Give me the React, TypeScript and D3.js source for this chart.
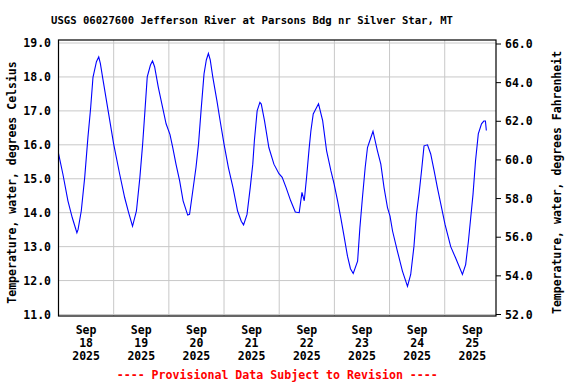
import React from "react";
import * as d3 from "d3";

// hours after Sep 18 2025 00:00 and water temperature (deg C)
const hours = [
  0, 1.9, 4.1, 6, 8, 8.5, 9.9, 11.4, 12.8, 14, 15, 16.5, 17.5, 18.2, 19.4, 21.6,
  24, 26.6, 28.8, 30.5, 32.2, 33.9, 35.4, 36.6, 37.6, 38.6, 40, 40.9, 41.8, 43.4, 45.6, 46.8,
  48.5, 49.7, 51.1, 52.7, 54.2, 56.2, 57, 58.4, 59.8, 60.9, 62, 63.3, 64.3, 65.2, 66, 67.1, 68.9, 70.3,
  72, 73.9, 75.9, 77.9, 79.5, 80.5, 82, 83.4, 84.5, 85.2, 86.4, 87.6, 88.2, 89.6, 91.5, 93.7,
  95.9, 97.3, 99, 101, 103, 104.7, 105.9, 106.9, 107.9, 109, 109.8, 110.8, 113.1, 114.9, 116.6, 118.5,
  119.9, 121.4, 122.8, 124.2, 125.7, 127, 128.2, 130.1, 131.1, 132.2, 133.4, 134.4, 135.4, 136.8, 138.7, 140.2, 141.6, 143.1,
  144.2, 145.3, 147.4, 149.6, 151.8, 153.2, 154.6, 155.7, 156.8, 157.9, 159, 160.5, 161.9, 163.4, 164.8, 166.3,
  168.1, 170.6, 172.7, 175.7, 177.1, 178.3, 179.3, 180.3, 181.4, 182.6, 184, 185, 185.7, 186.1,
];
const tempC = [
  15.75, 15.14, 14.35, 13.85, 13.41, 13.5, 14.05, 15.04, 16.22, 17.1, 17.99, 18.45, 18.59, 18.4, 17.9, 17.0,
  16.02, 15.14, 14.44, 14.0, 13.6, 14.05, 15.04, 16.02, 17.0, 18.0, 18.35, 18.47, 18.3, 17.7, 17.0, 16.62,
  16.3, 15.92, 15.43, 14.94, 14.35, 13.93, 13.95, 14.64, 15.33, 16.02, 17.0, 18.09, 18.5, 18.69, 18.5, 18.0, 17.3, 16.71,
  16.02, 15.33, 14.74, 14.05, 13.75, 13.64, 13.95, 14.74, 15.43, 16.12, 17.0, 17.25, 17.2, 16.71, 15.92, 15.43,
  15.15, 15.04, 14.74, 14.35, 14.02, 14.0, 14.6, 14.35, 15.04, 15.88, 16.42, 16.91, 17.21, 16.71, 15.83, 15.23,
  14.84, 14.35, 13.85, 13.31, 12.72, 12.35, 12.21, 12.57, 13.56, 14.44, 15.33, 15.92, 16.12, 16.4, 15.83, 15.43, 14.74, 14.15,
  13.9, 13.46, 12.87, 12.28, 11.83, 12.18, 13.0, 13.95, 14.54, 15.23, 15.97, 16.0, 15.73, 15.23, 14.74, 14.25,
  13.66, 13.0, 12.67, 12.18, 12.47, 13.16, 13.85, 14.54, 15.53, 16.32, 16.62, 16.7, 16.7, 16.42,
];
const celsiusTicks = [11, 12, 13, 14, 15, 16, 17, 18, 19];
const fahrenheitTicks = [52, 54, 56, 58, 60, 62, 64, 66];

const title = "USGS 06027600 Jefferson River at Parsons Bdg nr Silver Star, MT";
const leftTitle = "Temperature, water, degrees Celsius";
const rightTitle = "Temperature, water, degrees Fahrenheit";
const note = "---- Provisional Data Subject to Revision ----";

const start = new Date(Date.UTC(2025, 8, 18));
const HOUR = 3600 * 1000;
const font = "'DejaVu Sans Mono', monospace";

export default function App() {
  const width = 576, height = 384;
  const left = 58.5, right = 496, top = 40, bottom = 316;

  const x = d3.scaleUtc()
    .domain([start, new Date(+start + 190.3 * HOUR)])
    .range([left, right]);
  const y = d3.scaleLinear().domain([11, 19]).range([314.5, 43]);
  const yF = d3.scaleLinear().domain([52, 66]).range([314.5, 44]);

  const data = hours.map((h, i) => ({ t: new Date(+start + h * HOUR), v: tempC[i] }));
  const line = d3.line<{ t: Date; v: number }>()
    .x(d => x(d.t))
    .y(d => y(d.v));

  const days = d3.utcDay.range(start, x.domain()[1]);
  const fmtMon = d3.utcFormat("%b");
  const fmtDay = d3.utcFormat("%d");
  const fmtYear = d3.utcFormat("%Y");
  const fmt1 = d3.format(".1f");

  return (
    <svg width={width} height={height} style={{ position: "absolute", left: 0, top: 0 }}>
      <rect width={width} height={height} fill="white" />
      <text x={252} y={24} textAnchor="middle" fontFamily={font} fontWeight="bold" fontSize={10.6}>
        {title}
      </text>

      {/* grid */}
      {celsiusTicks.map(t => (
        <line key={"gy" + t} x1={left} x2={right} y1={y(t)} y2={y(t)} stroke="#c8c8c8" />
      ))}
      {days.slice(1).map(d => (
        <line key={"gx" + +d} x1={x(d)} x2={x(d)} y1={top} y2={bottom} stroke="#c8c8c8" />
      ))}

      <path d={line(data) ?? ""} fill="none" stroke="#0000ff" strokeWidth={1.1} />

      <rect x={left} y={top} width={right - left} height={bottom - top} fill="none" stroke="black" strokeWidth={1.2} />

      {/* left axis */}
      {celsiusTicks.map(t => (
        <text key={"ly" + t} x={51} y={y(t)} dy="0.35em" textAnchor="end"
          fontFamily={font} fontWeight="bold" fontSize={11.5}>{fmt1(t)}</text>
      ))}
      {/* right axis */}
      {fahrenheitTicks.map(t => (
        <g key={"ry" + t}>
          <line x1={right} x2={right + 5} y1={yF(t)} y2={yF(t)} stroke="black" />
          <text x={505} y={yF(t)} dy="0.35em" fontFamily={font} fontWeight="bold" fontSize={11.5}>{fmt1(t)}</text>
        </g>
      ))}

      {/* day labels */}
      {days.map(d => {
        const cx = x(new Date(+d + 12 * HOUR));
        return (
          <text key={"dl" + +d} x={cx} textAnchor="middle" fontFamily={font} fontWeight="bold" fontSize={11.5}>
            <tspan x={cx} y={334}>{fmtMon(d)}</tspan>
            <tspan x={cx} y={347}>{fmtDay(d)}</tspan>
            <tspan x={cx} y={360}>{fmtYear(d)}</tspan>
          </text>
        );
      })}

      <text transform="translate(12,182.5) rotate(-90)" textAnchor="middle" dy="0.35em"
        fontFamily={font} fontWeight="bold" fontSize={11.5}>{leftTitle}</text>
      <text transform="translate(557,182.5) rotate(-90)" textAnchor="middle" dy="0.35em"
        fontFamily={font} fontWeight="bold" fontSize={11.5}>{rightTitle}</text>

      <text x={(left + right) / 2} y={379} textAnchor="middle" fill="red"
        fontFamily={font} fontWeight="bold" fontSize={11.6}>{note}</text>
    </svg>
  );
}
